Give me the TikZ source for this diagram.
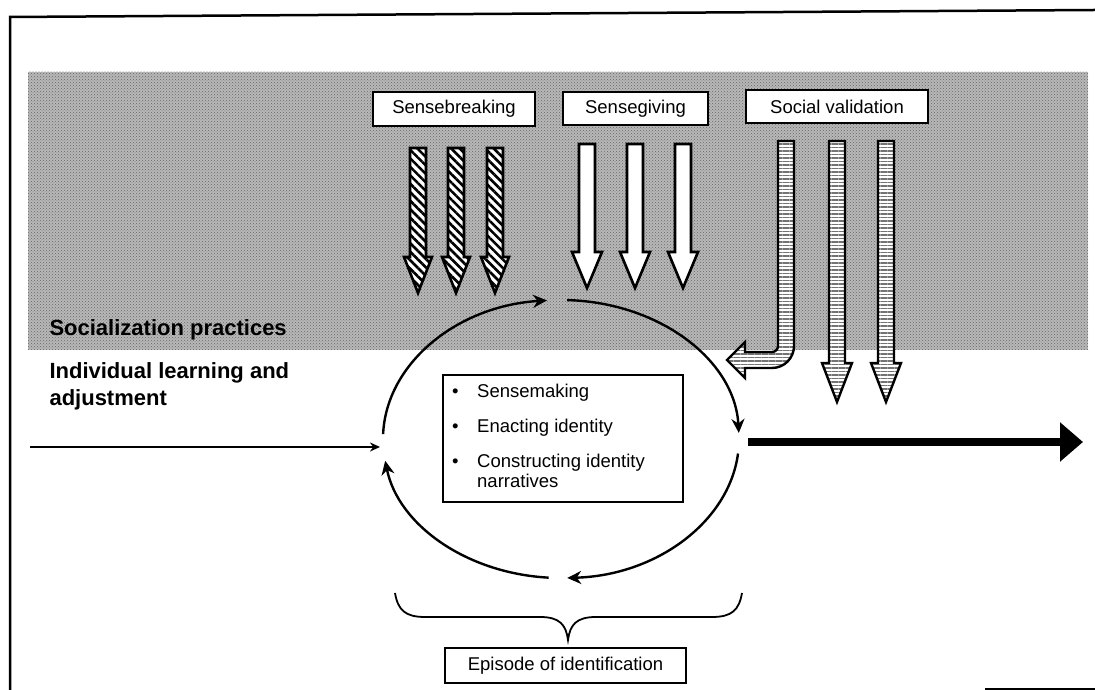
\documentclass[tikz,border=0pt]{standalone}
\usepackage{fontspec}
\setmainfont{Liberation Sans}
\usetikzlibrary{arrows.meta,patterns,patterns.meta,calc}
\newcommand{\dnarr}[7]{\draw[#1] (#2-#6,#3) -- (#2+#6,#3) -- (#2+#6,#4) -- (#2+#7,#4) -- (#2,#5) -- (#2-#7,#4) -- (#2-#6,#4) -- cycle;}
\begin{document}
\begin{tikzpicture}[x=1pt,y=1pt,
  lbl/.style={draw,line width=1.3,fill=white,inner sep=0,font=\fontsize{18.5}{21}\selectfont},
  hatcharr/.style={draw,line width=2.6,preaction={fill=white},pattern={Lines[angle=-45,distance=6pt,line width=2.6pt]},pattern color=black},
  whitearr/.style={draw,line width=2.6,fill=white},
  svarr/.style={draw,line width=2.4,preaction={fill=white},pattern={Lines[angle=0,distance=3.5pt,line width=1.6pt]},pattern color=black!55},
  cyc/.style={line width=2.4,-{Stealth[length=14pt,width=13pt]}},
  side/.style={font=\fontsize{22}{26}\selectfont\bfseries,anchor=base west},
  item/.style={font=\fontsize{18.5}{22}\selectfont,anchor=base west,inner sep=0}]
\useasboundingbox (0,0) rectangle (1095,690);
% frame
\draw[line width=2.5] (10,0) -- (10,673) -- (1095,680);
\draw[line width=2] (985,1) -- (1095,1);
% textured band
\fill[black!28] (28,340) rectangle (1088,618);
\path[pattern=crosshatch dots,pattern color=black!60] (28,340) rectangle (1088,618);
% labels
\node[lbl,minimum width=162,minimum height=34] (sb) at (454,581) {Sensebreaking};
\node[lbl,minimum width=145,minimum height=33] (sg) at (635.5,581.5) {Sensegiving};
\node[lbl,minimum width=182,minimum height=33] (sv) at (837,583.5) {Social validation};
% sensebreaking arrows
\dnarr{hatcharr}{418}{542}{433}{397}{8}{14}
\dnarr{hatcharr}{456}{542}{433}{397}{8}{14}
\dnarr{hatcharr}{495}{542}{433}{397}{8}{14}
% sensegiving arrows
\dnarr{whitearr}{587}{546}{438}{402}{8}{15}
\dnarr{whitearr}{635}{546}{438}{402}{8}{15}
\dnarr{whitearr}{683}{546}{438}{402}{8}{15}
% social validation arrows
\draw[svarr] (778,549) -- (794,549) -- (794,344) arc[start angle=0,end angle=-90,radius=22]
  -- (745,322) -- (745,312) -- (727,330) -- (745,348) -- (745,338) -- (772,338)
  arc[start angle=-90,end angle=0,radius=6] -- cycle;
\dnarr{svarr}{837}{549}{327}{288}{8}{15}
\dnarr{svarr}{886}{549}{327}{288}{8}{15}
% side texts
\node[side] (soc) at (46,354) {Socialization practices};
\node[side] (ind1) at (46,311) {Individual learning and};
\node[side] (ind2) at (46,284) {adjustment};
% cycle
\coordinate (c) at (561,251);
\draw[cyc] ($(c)+(178:178 and 139)$) arc[start angle=178,end angle=94.5,x radius=178,y radius=139];
\draw[cyc] ($(c)+(88:178 and 139)$) arc[start angle=88,end angle=2.5,x radius=178,y radius=139];
\draw[cyc] ($(c)+(-6:178 and 139)$) arc[start angle=-6,end angle=-88,x radius=178,y radius=139];
\draw[cyc] ($(c)+(-94:178 and 139)$) arc[start angle=-94,end angle=-171,x radius=178,y radius=139];
% inner box
\node[draw,line width=1.3,minimum width=240,minimum height=127,inner sep=0] (inner) at (563,251.5) {};
\node[item] (b1) at (452,292) {\textbullet};
\node[item] (t1) at (477,292) {Sensemaking};
\node[item] (b2) at (452,257) {\textbullet};
\node[item] (t2) at (477,257) {Enacting identity};
\node[item] (b3) at (452,222) {\textbullet};
\node[item] (t3) at (477,222) {Constructing identity};
\node[item] (t4) at (477,202) {narratives};
% input and output arrows
\coordinate (in0) at (30,243);
\coordinate (in1) at (380,243);
\draw[line width=2.2,-{Stealth[length=10pt,width=9pt]}] (in0) -- (in1);
\coordinate (out0) at (748,248);
\coordinate (out1) at (1083,248);
\draw[line width=8,-{Triangle[length=23pt,width=38pt]}] (out0) -- (out1);
% brace and episode box
\node[lbl,minimum width=241,minimum height=35] (ep) at (565.5,24.5) {Episode of identification};
\coordinate (tip) at (568,50);
\draw[line width=1.8] (395,97) .. controls (398,80) and (405,73) .. (425,73) -- (540,73)
  .. controls (560,73) and (566,65) .. (tip)
  .. controls (570,65) and (576,73) .. (596,73) -- (712,73)
  .. controls (732,73) and (739,80) .. (742,97);
\end{tikzpicture}
\end{document}
